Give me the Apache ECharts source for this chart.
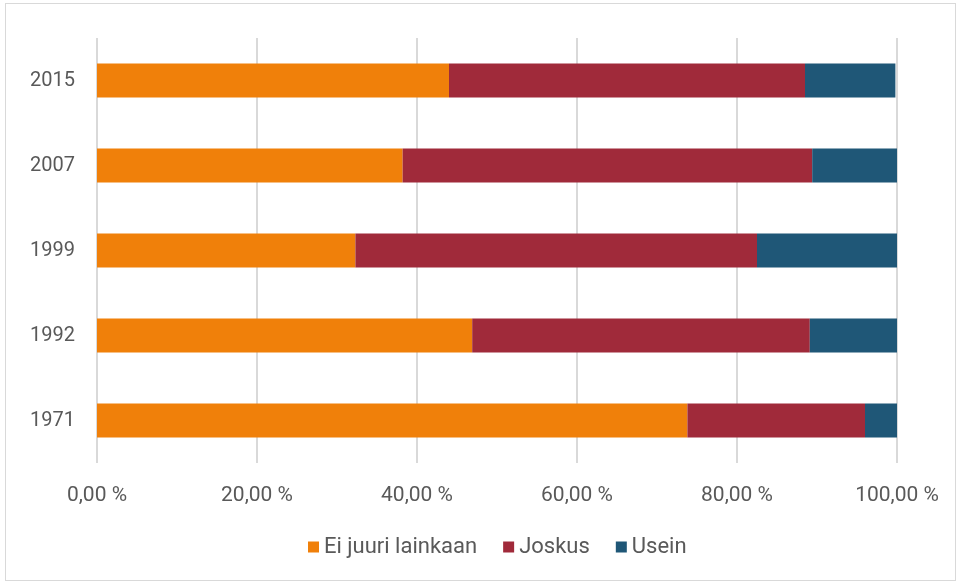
<!DOCTYPE html>
<html>
<head>
<meta charset="utf-8">
<script src="https://cdn.jsdelivr.net/npm/echarts@6/dist/echarts.min.js"></script>
<style>
html,body{margin:0;padding:0;background:#fff;}
#frame{position:absolute;left:5px;top:3px;width:951px;height:578px;border:1px solid #d9d9d9;box-sizing:border-box;}
#chart{position:absolute;left:0;top:0;width:959px;height:583px;}
</style>
</head>
<body>
<div id="frame"></div>
<div id="chart"></div>
<script>
const categories = ['1971', '1992', '1999', '2007', '2015'];
const eiJuuri = [73.8, 46.9, 32.3, 38.2, 44.0];
const joskus = [22.2, 42.2, 50.2, 51.2, 44.5];
const usein = [4.0, 10.9, 17.5, 10.6, 11.3];
const tickLabels = ['0,00 %', '20,00 %', '40,00 %', '60,00 %', '80,00 %', '100,00 %'];
const seriesNames = ['Ei juuri lainkaan', 'Joskus', 'Usein'];
const colors = ['#F0800A', '#A02A3A', '#1F5777'];

const font = "Roboto,sans-serif";
const chart = echarts.init(document.getElementById('chart'), null, {renderer: 'canvas'});
const mk = (name, data, color) => ({
  name, type: 'bar', stack: 'total', data, barWidth: '40%',
  itemStyle: {color}, emphasis: {disabled: true}
});
chart.setOption({
  animation: false,
  color: colors,
  textStyle: {fontFamily: font},
  grid: {left: 97, right: 62, top: 38, bottom: 120, containLabel: false},
  xAxis: {
    type: 'value', min: 0, max: 100, interval: 20,
    axisLine: {show: false}, axisTick: {show: false},
    splitLine: {lineStyle: {color: '#d9d9d9', width: 2}},
    axisLabel: {
      color: '#595959', fontSize: 21, fontFamily: font, margin: 22,
      formatter: v => tickLabels[Math.round(v / 20)]
    }
  },
  yAxis: {
    type: 'category', data: categories,
    axisLine: {show: false}, axisTick: {show: false},
    axisLabel: {color: '#595959', fontSize: 20, fontFamily: font, margin: 22}
  },
  legend: {
    bottom: 20, left: 303, itemWidth: 11, itemHeight: 11, itemGap: 26,
    icon: 'rect',
    textStyle: {color: '#595959', fontSize: 22, fontFamily: font},
    data: seriesNames
  },
  series: [
    mk(seriesNames[0], eiJuuri, colors[0]),
    mk(seriesNames[1], joskus, colors[1]),
    mk(seriesNames[2], usein, colors[2])
  ]
});
</script>
</body>
</html>
